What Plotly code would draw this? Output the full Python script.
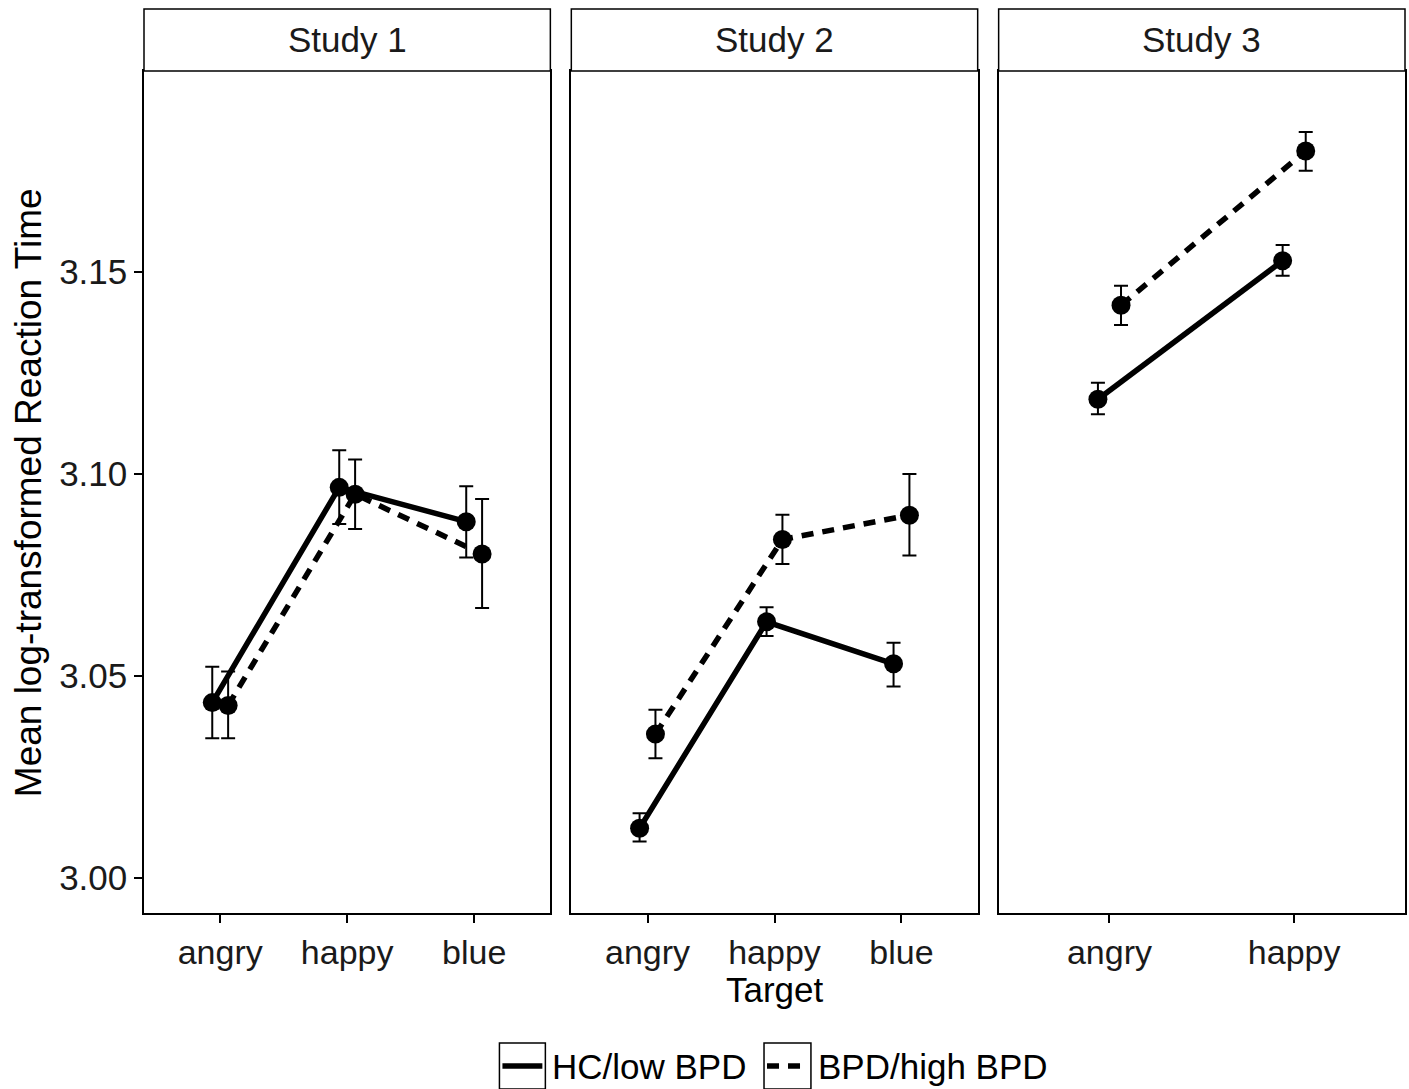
import plotly.graph_objects as go

# ---------------- data ----------------
studies = ["Study 1", "Study 2", "Study 3"]
targets_s1 = ["angry", "happy", "blue"]
targets_s2 = ["angry", "happy", "blue"]
targets_s3 = ["angry", "happy"]
groups = ["HC/low BPD", "BPD/high BPD"]

s1_hc = [3.0434, 3.0967, 3.0882]
s1_hc_lo = [3.0346, 3.0876, 3.0793]
s1_hc_hi = [3.0523, 3.1059, 3.0970]
s1_bpd = [3.0427, 3.0950, 3.0802]
s1_bpd_lo = [3.0346, 3.0864, 3.0668]
s1_bpd_hi = [3.0511, 3.1036, 3.0938]

s2_hc = [3.0123, 3.0634, 3.0530]
s2_hc_lo = [3.0090, 3.0599, 3.0474]
s2_hc_hi = [3.0160, 3.0670, 3.0582]
s2_bpd = [3.0356, 3.0838, 3.0898]
s2_bpd_lo = [3.0296, 3.0777, 3.0798]
s2_bpd_hi = [3.0416, 3.0899, 3.1000]

s3_hc = [3.1185, 3.1528]
s3_hc_lo = [3.1148, 3.1491]
s3_hc_hi = [3.1226, 3.1567]
s3_bpd = [3.1418, 3.1800]
s3_bpd_lo = [3.1369, 3.1751]
s3_bpd_hi = [3.1466, 3.1847]

y_ticks = [3.00, 3.05, 3.10, 3.15]
y_ticklabels = ["3.00", "3.05", "3.10", "3.15"]
x_title = "Target"
y_title = "Mean log-transformed Reaction Time"

# ---------------- layout constants ----------------
W, H = 1409, 1089
ML, MR, MT, MB = 144, 2, 71, 176
PW = W - ML - MR
PH = H - MT - MB
FONT = "Liberation Sans, Arial, sans-serif"
FS_XT = 34
FS_YT = 35
FS_STRIP = 35
FS_LEG = 35
FS_XTITLE = 35
FS_YTITLE = 37
DODGE = 0.0625
LW = 5.5
DASH = "12px,9px"


def px_x(px):
    return (px - ML) / PW


def px_y(py):
    return (H - MB - py) / PH


panel_px = [(144, 551), (572, 979), (1000, 1407)]
domains = [[px_x(a), min(1.0, px_x(b))] for a, b in panel_px]

panels = [
    (targets_s1, [(s1_hc, s1_hc_lo, s1_hc_hi), (s1_bpd, s1_bpd_lo, s1_bpd_hi)]),
    (targets_s2, [(s2_hc, s2_hc_lo, s2_hc_hi), (s2_bpd, s2_bpd_lo, s2_bpd_hi)]),
    (targets_s3, [(s3_hc, s3_hc_lo, s3_hc_hi), (s3_bpd, s3_bpd_lo, s3_bpd_hi)]),
]

fig = go.Figure()

for p, (cats, series) in enumerate(panels):
    xa = "x" if p == 0 else f"x{p + 1}"
    ya = "y" if p == 0 else f"y{p + 1}"
    for g, (mean, lo, hi) in enumerate(series):
        off = -DODGE if g == 0 else DODGE
        xs = [i + 1 + off for i in range(len(cats))]
        fig.add_trace(go.Scatter(
            x=xs, y=mean, xaxis=xa, yaxis=ya,
            mode="lines+markers",
            name=groups[g], showlegend=False,
            line=dict(color="black", width=LW, dash="solid" if g == 0 else DASH),
            marker=dict(color="black", size=19, symbol="circle"),
            error_y=dict(type="data", symmetric=False,
                         array=[h - m for h, m in zip(hi, mean)],
                         arrayminus=[m - l for m, l in zip(mean, lo)],
                         color="black", thickness=2, width=7),
        ))

yrange = [2.9913, 3.1998]
axis_common = dict(showline=True, linecolor="black", linewidth=1.5, mirror=True,
                   showgrid=False, zeroline=False, ticks="outside", ticklen=8,
                   tickwidth=1.5, tickcolor="black")

layout = dict(width=W, height=H, plot_bgcolor="white", paper_bgcolor="white",
              margin=dict(l=ML, r=MR, t=MT, b=MB), showlegend=False,
              font=dict(family=FONT, size=FS_XT, color="black"))

for p, (cats, _) in enumerate(panels):
    key = "" if p == 0 else str(p + 1)
    n = len(cats)
    layout["xaxis" + key] = dict(axis_common, domain=domains[p], range=[0.4, n + 0.6],
                                 tickvals=list(range(1, n + 1)), ticktext=cats,
                                 anchor="y" + key,
                                 tickfont=dict(family=FONT, size=FS_XT, color="#1a1a1a"))
    ydict = dict(axis_common, domain=[0, 1], range=yrange, anchor="x" + key,
                 tickvals=y_ticks, ticktext=y_ticklabels,
                 tickfont=dict(family=FONT, size=FS_YT, color="#1a1a1a"))
    if p > 0:
        ydict.update(matches="y", showticklabels=False, ticks="")
    layout["yaxis" + key] = ydict

fig.update_layout(**layout)

# strips
strip_top = px_y(9)
for p, name in enumerate(studies):
    x0, x1 = domains[p]
    fig.add_shape(type="rect", xref="paper", yref="paper", x0=x0, x1=x1, y0=1, y1=strip_top,
                  line=dict(color="black", width=1.5), fillcolor="white")
    fig.add_annotation(xref="paper", yref="paper", x=(x0 + x1) / 2, y=(1 + strip_top) / 2,
                       text=name, showarrow=False, xanchor="center", yanchor="middle",
                       font=dict(family=FONT, size=FS_STRIP, color="#1a1a1a"))

# axis titles
fig.add_annotation(xref="paper", yref="paper", x=(domains[1][0] + domains[1][1]) / 2,
                   y=px_y(989), text=x_title, showarrow=False, xanchor="center",
                   yanchor="middle", font=dict(family=FONT, size=FS_XTITLE, color="black"))
fig.add_annotation(xref="paper", yref="paper", x=px_x(28), y=px_y(493), text=y_title,
                   textangle=-90, showarrow=False, xanchor="center", yanchor="middle",
                   font=dict(family=FONT, size=FS_YTITLE, color="black"))

# legend (drawn manually, ggplot style keys with boxes)
leg_y = 1066
keys = [(500, 546, "solid", 551), (765, 812, DASH, 817)]
for (bx0, bx1, dash, tx), label in zip(keys, groups):
    fig.add_shape(type="rect", xref="paper", yref="paper", x0=px_x(bx0), x1=px_x(bx1),
                  y0=px_y(1089), y1=px_y(1043), line=dict(color="black", width=1.5),
                  fillcolor="white")
    fig.add_shape(type="line", xref="paper", yref="paper", x0=px_x(bx0 + 3), x1=px_x(bx1 - 3),
                  y0=px_y(leg_y), y1=px_y(leg_y), line=dict(color="black", width=LW, dash=dash))
    fig.add_annotation(xref="paper", yref="paper", x=px_x(tx), y=px_y(leg_y), text=label,
                       showarrow=False, xanchor="left", yanchor="middle",
                       font=dict(family=FONT, size=FS_LEG, color="black"))

fig.write_html("out.html", config={"displayModeBar": False},
               post_script="document.body.style.margin='0';document.body.style.padding='0';"
                           "document.documentElement.style.overflow='hidden';")
